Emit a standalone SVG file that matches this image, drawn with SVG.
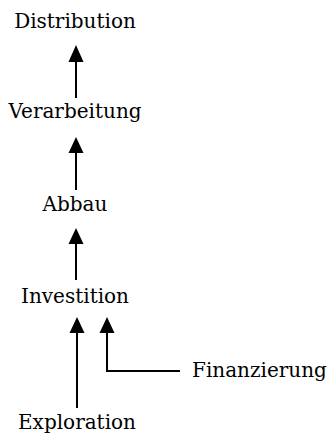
<svg xmlns="http://www.w3.org/2000/svg" width="330" height="434" viewBox="0 0 330 434">
<style>
text{font-family:"DejaVu Serif","Liberation Serif",serif;font-size:20px;fill:#000}
.c{text-anchor:middle}
.ln{stroke:#000;stroke-width:2;fill:none}
.ah{fill:#000}
</style>
<rect width="330" height="434" fill="#fff"/>
<g id="distribution"><text class="c" x="75" y="28">Distribution</text></g>
<g id="verarbeitung"><text class="c" x="75" y="118">Verarbeitung</text></g>
<g id="abbau"><text class="c" x="75" y="211">Abbau</text></g>
<g id="investition"><text class="c" x="75" y="303">Investition</text></g>
<g id="finanzierung"><text x="192" y="377">Finanzierung</text></g>
<g id="exploration"><text class="c" x="77" y="429">Exploration</text></g>
<g id="connectors">
<path class="ln" d="M76 98V58"/><path class="ah" d="M76 45L68.5 62H83.5Z"/>
<path class="ln" d="M76 190V150"/><path class="ah" d="M76 137L68.5 153H83.5Z"/>
<path class="ln" d="M76 280V240"/><path class="ah" d="M76 228L68.5 244H83.5Z"/>
<path class="ln" d="M77 408V330"/><path class="ah" d="M77 317L69.5 333H84.5Z"/>
<path class="ln" d="M107 330V371H180"/><path class="ah" d="M107 317L99.5 333H114.5Z"/>
</g>
</svg>
